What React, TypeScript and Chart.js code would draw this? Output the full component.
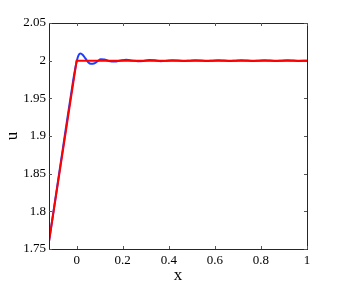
import React, { useEffect, useRef } from "react";
import { Chart, registerables } from "chart.js";

Chart.register(...registerables);

const blueX = [-0.12, -0.1, -0.08, -0.06, -0.04, -0.02, -0.01, 0.0, 0.008, 0.017, 0.027, 0.038, 0.05, 0.062, 0.075, 0.09, 0.105, 0.12, 0.14, 0.165, 0.19, 0.215, 0.24, 0.265, 0.29, 0.315, 0.34, 0.365, 0.39, 0.415, 0.44, 0.465, 0.49, 0.515, 0.54, 0.565, 0.59, 0.615, 0.64, 0.665, 0.69, 0.715, 0.74, 0.765, 0.79, 0.815, 0.84, 0.865, 0.89, 0.915, 0.94, 0.965, 1.0];
const blueY = [1.76, 1.801, 1.842, 1.883, 1.924, 1.964, 1.983, 1.999, 2.007, 2.0095, 2.0075, 2.003, 1.998, 1.9958, 1.9962, 1.999, 2.0018, 2.0016, 1.9996, 1.9988, 2.0002, 2.0012, 2.0003, 1.9992, 1.9997, 2.0008, 2.0004, 1.9993, 1.9998, 2.0007, 2.0003, 1.9994, 1.9999, 2.0006, 2.0002, 1.9995, 2.0, 2.0006, 2.0001, 1.9995, 2.0, 2.0005, 2.0001, 1.9996, 2.0, 2.0005, 2.0001, 1.9996, 2.0, 2.0004, 2.0001, 1.9997, 2.0];
const redX = [-0.12, 0.0, 1.0];
const redY = [1.76, 2.0, 2.0];
const xTicks = [0, 0.2, 0.4, 0.6, 0.8, 1];
const xTickLabels = ["0", "0.2", "0.4", "0.6", "0.8", "1"];
const yTicks = [1.75, 1.8, 1.85, 1.9, 1.95, 2.0, 2.05];
const yTickLabels = ["1.75", "1.8", "1.85", "1.9", "1.95", "2", "2.05"];

const frame = {
  id: "frame",
  afterDraw(chart: any) {
    const { ctx, chartArea: a, scales } = chart;
    ctx.save();
    ctx.strokeStyle = "#262626";
    ctx.lineWidth = 1;
    ctx.strokeRect(Math.round(a.left) + 0.5, Math.round(a.top) + 0.5, Math.round(a.right - a.left), Math.round(a.bottom - a.top));
    ctx.strokeStyle = "#555";
    const L = 3;
    ctx.beginPath();
    xTicks.forEach((v) => {
      const px = Math.round(scales.x.getPixelForValue(v)) + 0.5;
      ctx.moveTo(px, a.bottom);
      ctx.lineTo(px, a.bottom - L);
      ctx.moveTo(px, a.top);
      ctx.lineTo(px, a.top + L);
    });
    yTicks.forEach((v) => {
      const py = Math.round(scales.y.getPixelForValue(v)) + 0.5;
      ctx.moveTo(a.left, py);
      ctx.lineTo(a.left + L, py);
      ctx.moveTo(a.right, py);
      ctx.lineTo(a.right - L, py);
    });
    ctx.stroke();
    ctx.restore();
  },
};

export default function App() {
  const ref = useRef<HTMLCanvasElement>(null);
  useEffect(() => {
    document.body.style.margin = "0";
    const font = { family: "'Liberation Serif', 'Times New Roman', serif", size: 13 };
    const chart = new Chart(ref.current!, {
      type: "scatter",
      data: {
        datasets: [
          {
            data: redX.map((x, i) => ({ x, y: redY[i] })),
            borderColor: "#ff0000",
            borderWidth: 2,
            showLine: true,
            pointRadius: 0,
            order: 0,
          },
          {
            data: blueX.map((x, i) => ({ x, y: blueY[i] })),
            borderColor: "#1f3dff",
            borderWidth: 2,
            showLine: true,
            pointRadius: 0,
            cubicInterpolationMode: "monotone",
            order: 1,
          },
        ],
      },
      options: {
        responsive: false,
        animation: false,
        layout: { padding: { left: 0, right: 50, top: 23, bottom: 0 } },
        plugins: { legend: { display: false }, tooltip: { enabled: false } },
        scales: {
          x: {
            type: "linear",
            min: -0.12,
            max: 1,
            grid: { display: false, drawTicks: false },
            border: { display: false },
            afterBuildTicks: (s: any) => {
              s.ticks = xTicks.map((v) => ({ value: v }));
            },
            ticks: {
              font,
              color: "#000",
              padding: 4,
              maxRotation: 0,
              callback: (v: any) => {
                const i = xTicks.findIndex((t) => Math.abs(t - v) < 1e-9);
                return i >= 0 ? xTickLabels[i] : "";
              },
            },
            title: { display: true, text: "x", font: { family: font.family, size: 17 }, color: "#000", padding: { top: 0, bottom: 8 } },
            afterFit: (s: any) => {
              s.height = 45;
            },
          },
          y: {
            type: "linear",
            min: 1.75,
            max: 2.05,
            grid: { display: false, drawTicks: false },
            border: { display: false },
            afterBuildTicks: (s: any) => {
              s.ticks = yTicks.map((v) => ({ value: v }));
            },
            ticks: {
              font,
              color: "#000",
              padding: 3,
              callback: (v: any) => {
                const i = yTicks.findIndex((t) => Math.abs(t - v) < 1e-9);
                return i >= 0 ? yTickLabels[i] : "";
              },
            },
            title: { display: true, text: "u", font: { family: font.family, size: 17 }, color: "#000", padding: { top: 2, bottom: 0 } },
            afterFit: (s: any) => {
              s.width = 49;
            },
          },
        },
      },
      plugins: [frame],
    } as any);
    return () => chart.destroy();
  }, []);
  return (
    <div style={{ width: 357, height: 294, background: "#fff" }}>
      <canvas ref={ref} width={357} height={294} />
    </div>
  );
}
